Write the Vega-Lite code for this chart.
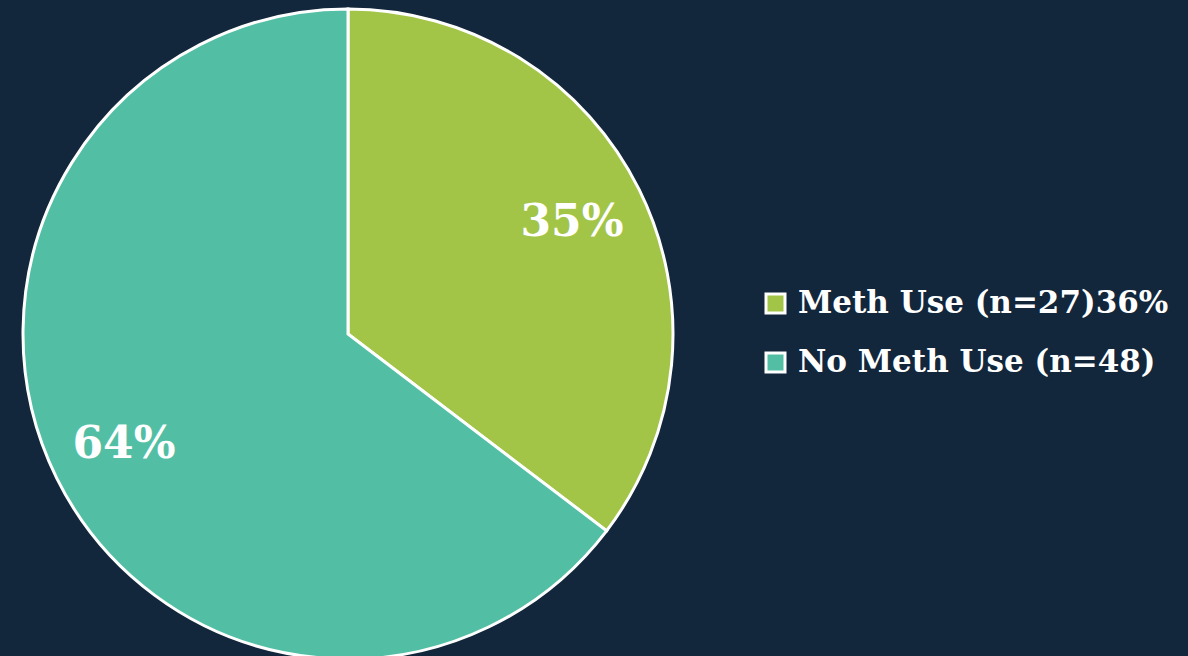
{
  "$schema": "https://vega.github.io/schema/vega-lite/v6.json",
  "autosize": {"type": "none"},
  "width": 696,
  "height": 668,
  "padding": {"left": 0, "top": 0, "right": 492, "bottom": 0},
  "background": "#12263c",
  "config": {"view": {"stroke": null}},
  "data": {
    "values": [
      {"category": "Meth Use (n=27)36%", "value": 35, "label": "35%", "order": 1},
      {"category": "No Meth Use (n=48)", "value": 64, "label": "64%", "order": 2}
    ]
  },
  "encoding": {
    "theta": {"field": "value", "type": "quantitative", "stack": true},
    "order": {"field": "order", "type": "quantitative"},
    "color": {
      "field": "category",
      "type": "nominal",
      "sort": ["Meth Use (n=27)36%", "No Meth Use (n=48)"],
      "scale": {"domain": ["Meth Use (n=27)36%", "No Meth Use (n=48)"], "range": ["#a2c547", "#52bfa5"]},
      "legend": {
        "title": null,
        "orient": "none",
        "legendX": 760,
        "legendY": 288,
        "symbolType": "square",
        "symbolSize": 361,
        "symbolStrokeColor": "white",
        "symbolStrokeWidth": 3,
        "symbolOpacity": 1,
        "labelFont": "DejaVu Serif",
        "labelFontWeight": "bold",
        "labelFontSize": 31,
        "labelColor": "white",
        "labelOffset": 7,
        "labelLimit": 600,
        "rowPadding": 27
      }
    }
  },
  "layer": [
    {
      "mark": {"type": "arc", "outerRadius": 325, "stroke": "white", "strokeWidth": 3}
    },
    {
      "mark": {"type": "text", "radius": 250, "font": "DejaVu Serif", "fontWeight": "bold", "fontSize": 44, "fill": "white", "align": "center", "baseline": "middle"},
      "encoding": {
        "text": {"field": "label", "type": "nominal"},
        "color": {"value": "white"}
      }
    }
  ]
}
